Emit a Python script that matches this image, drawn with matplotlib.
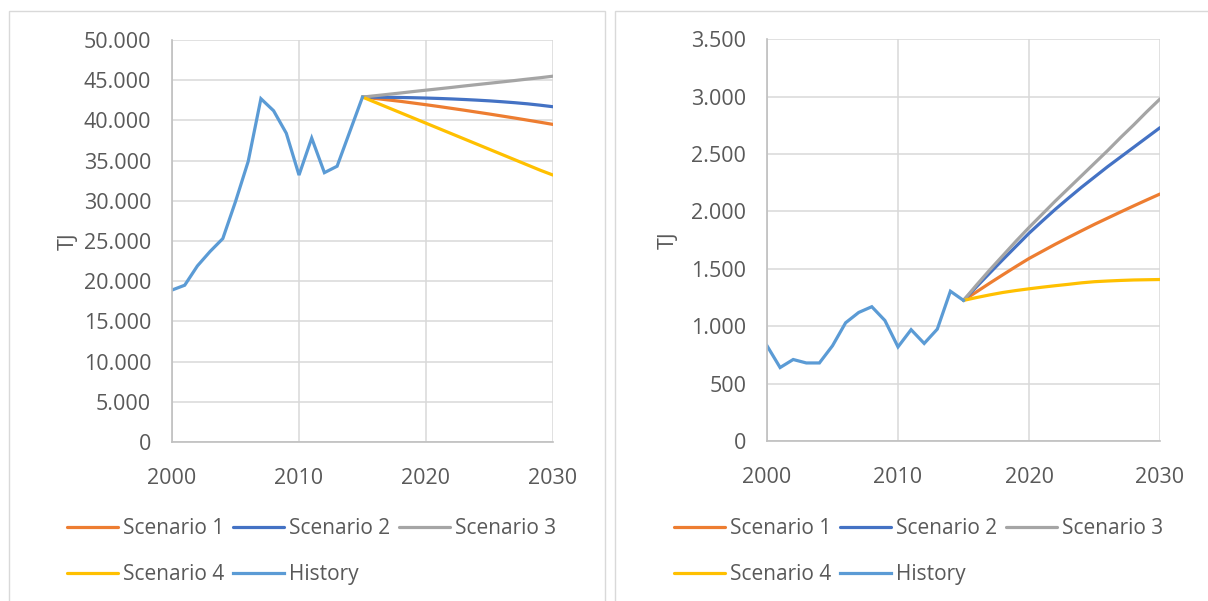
import matplotlib
matplotlib.use("Agg")
import matplotlib.pyplot as plt
from matplotlib.patches import Rectangle
from matplotlib.ticker import FuncFormatter, MultipleLocator

plt.rcParams['font.family'] = ['Open Sans', 'DejaVu Sans']

# years
hist_years = list(range(2000, 2016))
scen_years = list(range(2015, 2031))

# left chart (TJ)
left_history = [18900, 19500, 21900, 23700, 25300, 29900, 34900, 42700,
                41200, 38400, 33200, 37800, 33500, 34300, 38600, 42900]
left_s1 = [42900, 42730, 42550, 42370, 42160, 41950, 41730, 41500,
           41270, 41030, 40790, 40540, 40290, 40030, 39770, 39500]
left_s2 = [42900, 42890, 42870, 42850, 42820, 42780, 42730, 42670,
           42600, 42520, 42430, 42320, 42200, 42060, 41890, 41700]
left_s3 = [42900, 43070, 43240, 43410, 43590, 43760, 43930, 44100,
           44280, 44450, 44620, 44790, 44960, 45140, 45310, 45500]
left_s4 = [42900, 42250, 41600, 40950, 40300, 39650, 39000, 38350,
           37700, 37050, 36400, 35750, 35100, 34450, 33800, 33200]

# right chart (TJ)
right_history = [830, 640, 710, 680, 680, 830, 1030, 1120,
                 1170, 1050, 820, 970, 850, 975, 1305, 1225]
right_s1 = [1225, 1300, 1375, 1448, 1520, 1590, 1652, 1714,
            1773, 1831, 1888, 1942, 1996, 2049, 2101, 2152]
right_s2 = [1225, 1345, 1463, 1580, 1695, 1810, 1915, 2018,
            2115, 2210, 2300, 2390, 2475, 2560, 2645, 2730]
right_s3 = [1225, 1360, 1490, 1615, 1740, 1860, 1975, 2090,
            2200, 2310, 2420, 2530, 2645, 2755, 2870, 2980]
right_s4 = [1225, 1250, 1273, 1294, 1311, 1326, 1340, 1353,
            1365, 1378, 1388, 1394, 1399, 1403, 1405, 1407]

labels = ['Scenario 1', 'Scenario 2', 'Scenario 3', 'Scenario 4', 'History']
colors = ['#ED7D31', '#4472C4', '#A5A5A5', '#FFC000', '#5B9BD5']

TXT = '#595959'
GRID = '#D9D9D9'
FS = 15.5


def thousands(v, pos):
    return f"{v:,.0f}".replace(",", ".")


def draw_panel(ax, scen, hist, ymax, ystep, label_x):
    lines = []
    for vals, c in zip(scen, colors[:4]):
        ln, = ax.plot(scen_years, vals, color=c, lw=2.3, solid_capstyle='round')
        lines.append(ln)
    ln, = ax.plot(hist_years, hist, color=colors[4], lw=2.3, solid_joinstyle='miter')
    lines.append(ln)

    ax.set_xlim(2000, 2030)
    ax.set_ylim(0, ymax)
    ax.xaxis.set_major_locator(MultipleLocator(10))
    ax.yaxis.set_major_locator(MultipleLocator(ystep))
    ax.yaxis.set_major_formatter(FuncFormatter(thousands))
    ax.grid(True, color=GRID, lw=1.1)
    ax.set_axisbelow(True)
    for s in ['top', 'right']:
        ax.spines[s].set_visible(False)
    for s in ['left', 'bottom']:
        ax.spines[s].set_color('#BFBFBF')
        ax.spines[s].set_linewidth(1.2)
    ax.tick_params(length=0, labelsize=FS, colors=TXT)
    ax.tick_params(axis='y', pad=15)
    ax.tick_params(axis='x', pad=19)
    ax.set_ylabel('TJ', fontsize=FS, color=TXT)
    ax.yaxis.set_label_coords(label_x, 0.5)
    return lines


fig = plt.figure(figsize=(12.08, 6.01), dpi=100)

# chart frames
fig.patches.append(Rectangle((8.5 / 1208, -0.01), 597 / 1208, 1 - 10.5 / 601 + 0.01,
                             transform=fig.transFigure, fill=False, ec=GRID, lw=1))
fig.patches.append(Rectangle((615.5 / 1208, -0.01), 0.5, 1 - 10.5 / 601 + 0.01,
                             transform=fig.transFigure, fill=False, ec=GRID, lw=1))

ax1 = fig.add_axes([172 / 1208, 1 - 442 / 601, 381 / 1208, 402 / 601])
ax2 = fig.add_axes([767 / 1208, 1 - 441 / 601, 393 / 1208, 401.7 / 601])

h1 = draw_panel(ax1, [left_s1, left_s2, left_s3, left_s4], left_history, 50000, 5000, -0.246)
h2 = draw_panel(ax2, [right_s1, right_s2, right_s3, right_s4], right_history, 3500, 500, -0.224)

# legend fills column by column, so order entries to read row by row
order = [0, 3, 1, 4, 2]
leg_kw = dict(ncol=3, frameon=False, fontsize=15, handlelength=2.45, handletextpad=0.25,
              columnspacing=0.4, labelspacing=1.2, borderpad=0, borderaxespad=0,
              loc='upper left', labelcolor=TXT)
fig.legend([h1[i] for i in order], [labels[i] for i in order],
           bbox_to_anchor=(67 / 1208, 1 - 518 / 601), **leg_kw)
fig.legend([h2[i] for i in order], [labels[i] for i in order],
           bbox_to_anchor=(674 / 1208, 1 - 518 / 601), **leg_kw)

fig.savefig('out.png', dpi=100)
